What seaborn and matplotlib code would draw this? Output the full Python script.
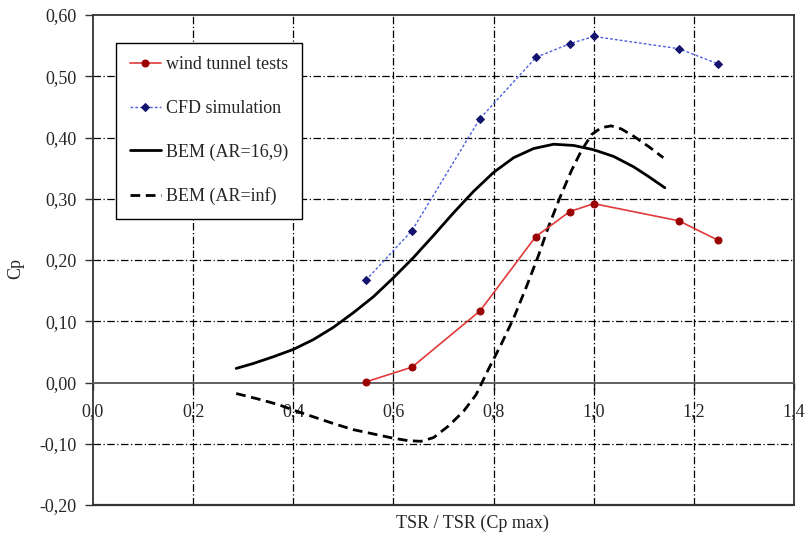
import numpy as np
import pandas as pd
import matplotlib
matplotlib.use("Agg")
import matplotlib.pyplot as plt
import seaborn as sns
from matplotlib.ticker import FuncFormatter

# Datos
tsr_ensayo = [0.545, 0.637, 0.773, 0.884, 0.952, 1.000, 1.170, 1.249]
cp_ensayo = [0.001, 0.025, 0.117, 0.238, 0.279, 0.292, 0.264, 0.232]

tsr_cfd = [0.545, 0.637, 0.773, 0.885, 0.952, 1.000, 1.170, 1.249]
cp_cfd = [0.167, 0.248, 0.431, 0.531, 0.553, 0.565, 0.545, 0.520]

tsr_bem = [0.286, 0.32, 0.36, 0.40, 0.44, 0.48, 0.52, 0.56, 0.60, 0.64, 0.68, 0.72,
           0.76, 0.80, 0.84, 0.88, 0.92, 0.96, 1.00, 1.04, 1.08, 1.11, 1.142]
cp_bem = [0.023, 0.031, 0.042, 0.054, 0.070, 0.090, 0.114, 0.140, 0.171, 0.204, 0.240, 0.277,
          0.312, 0.343, 0.367, 0.382, 0.389, 0.387, 0.380, 0.369, 0.352, 0.336, 0.318]

tsr_inf = [0.286, 0.33, 0.37, 0.40, 0.44, 0.48, 0.52, 0.56, 0.60, 0.63, 0.655, 0.68,
           0.71, 0.74, 0.765, 0.79, 0.815, 0.84, 0.865, 0.89, 0.91, 0.932, 0.955,
           0.975, 0.996, 1.015, 1.035, 1.055, 1.08, 1.11, 1.139]
cp_inf = [-0.018, -0.027, -0.036, -0.045, -0.056, -0.067, -0.077, -0.084, -0.091, -0.095, -0.096, -0.090,
          -0.071, -0.047, -0.020, 0.022, 0.062, 0.105, 0.155, 0.208, 0.255, 0.301, 0.345,
          0.378, 0.405, 0.416, 0.419, 0.414, 0.402, 0.385, 0.367]

x_ticks = [0.0, 0.2, 0.4, 0.6, 0.8, 1.0, 1.2, 1.4]
y_ticks = [-0.2, -0.1, 0.0, 0.1, 0.2, 0.3, 0.4, 0.5, 0.6]

sns.set_theme(style="white")
plt.rcParams['font.family'] = ['Liberation Serif', 'DejaVu Serif']
plt.rcParams['font.size'] = 13

fig = plt.figure(figsize=(8.06, 5.43), dpi=100)
ax = fig.add_axes([93 / 806, 1 - 505 / 543, (794 - 93) / 806, (505 - 15) / 543])

# Rejilla punto-raya
for xv in x_ticks[1:-1]:
    ax.axvline(xv, color='black', lw=0.9, ls=(0, (6, 2, 1, 2)), zorder=1)
for yv in y_ticks[1:-1]:
    if yv != 0.0:
        ax.axhline(yv, color='black', lw=0.9, ls=(0, (6, 2, 1, 2)), zorder=1)

sns.lineplot(x=tsr_ensayo, y=cp_ensayo, ax=ax, color='#e03a3a', lw=1.2,
             marker='o', markersize=5, markerfacecolor='#9a0000', markeredgecolor='#9a0000',
             sort=False, estimator=None, label='wind tunnel tests', zorder=4)
sns.lineplot(x=tsr_cfd, y=cp_cfd, ax=ax, color='#4d5ee0', lw=1.0, ls=(0, (2, 1.5)),
             marker='D', markersize=4.5, markerfacecolor='#14146e', markeredgecolor='#14146e',
             sort=False, estimator=None, label='CFD simulation', zorder=4)
sns.lineplot(x=tsr_bem, y=cp_bem, ax=ax, color='black', lw=2.0,
             sort=False, estimator=None, label='BEM (AR=16,9)', zorder=3)
sns.lineplot(x=tsr_inf, y=cp_inf, ax=ax, color='black', lw=2.0, ls=(0, (3.5, 2)),
             sort=False, estimator=None, label='BEM (AR=inf)', zorder=3)
for ln in ax.get_lines():
    ln.set_solid_joinstyle('round')
    ln.set_dash_joinstyle('round')

ax.set_xlim(0, 1.4)
ax.set_ylim(-0.2, 0.6)
ax.set_xticks(x_ticks)
ax.set_yticks(y_ticks)
ax.xaxis.set_major_formatter(FuncFormatter(lambda v, p: f"{v:.1f}".replace('.', ',')))
ax.yaxis.set_major_formatter(FuncFormatter(lambda v, p: f"{v:.2f}".replace('.', ',')))

# Eje x cruzando en y=0 y marco completo
ax.spines['bottom'].set_position(('data', 0))
ax.spines['bottom'].set_color('#555555')
ax.spines['bottom'].set_linewidth(1.3)
for s in ['top', 'right', 'left']:
    ax.spines[s].set_color('#333333')
    ax.spines[s].set_linewidth(1.3)
ax.axhline(-0.2, color='#333333', lw=1.6, zorder=5, clip_on=False)

ax.tick_params(axis='x', direction='out', length=5, width=1, color='#333333',
               labelsize=13, pad=10, bottom=True)
ax.tick_params(axis='y', direction='out', length=6, width=1, color='#333333',
               labelsize=13, pad=6, left=True)

ax.set_xlabel('')
ax.set_ylabel('')
fig.text(472 / 806, 1 - 523 / 543, 'TSR / TSR (Cp max)', ha='center', va='center', fontsize=13)
fig.text(16 / 806, 1 - 268 / 543, 'Cp', ha='center', va='center', rotation=90, fontsize=13)

leg = ax.legend(loc='upper left', bbox_to_anchor=(0.033, 0.943), fontsize=13,
                frameon=True, fancybox=False, edgecolor='black', framealpha=1,
                handlelength=1.75, labelspacing=1.47, borderpad=0.75, handletextpad=0.25,
                borderaxespad=0)
leg.get_frame().set_linewidth(1.0)

fig.savefig('out.png', dpi=100)
